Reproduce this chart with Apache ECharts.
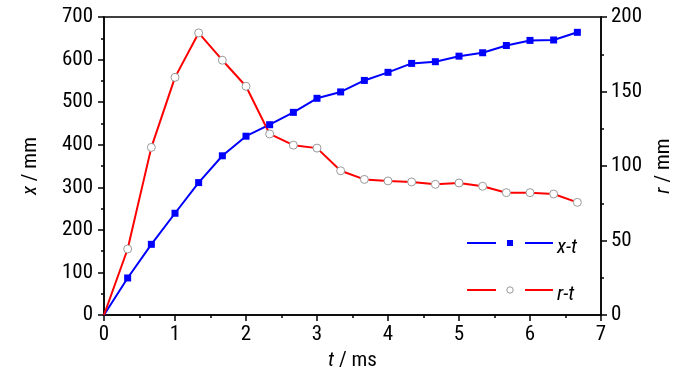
<!DOCTYPE html>
<html><head><meta charset="utf-8">
<script src="https://cdn.jsdelivr.net/npm/echarts@6/dist/echarts.min.js"></script>
<style>html,body{margin:0;padding:0;background:#fff}#c{width:700px;height:374px}</style>
</head><body><div id="c"></div>
<script>
const tValues = [0, 0.333, 0.667, 1.0, 1.333, 1.667, 2.0, 2.333, 2.667, 3.0, 3.333, 3.667, 4.0, 4.333, 4.667, 5.0, 5.333, 5.667, 6.0, 6.333, 6.667];
const xValues = [0, 87, 166, 239, 311, 374, 420, 447, 476, 509, 524, 551, 570, 591, 595, 608, 616, 633, 645, 646, 664];
const rValues = [0, 44.3, 112.5, 159.5, 189.3, 171, 153.5, 121.5, 114, 112, 96.8, 91, 90, 89.3, 87.7, 88.6, 86.4, 82.1, 82.1, 81.2, 75.6];
const xTicks = [0, 1, 2, 3, 4, 5, 6, 7];
const seriesNames = ['x-t', 'r-t'];

const FONT = '"Roboto Condensed", "Liberation Sans", Arial, sans-serif';
const FS = 21;
const chart = echarts.init(document.getElementById('c'), null, {renderer: 'canvas'});
const axisCommon = {
  axisLine: {show: true, lineStyle: {color: '#000', width: 1.5}},
  axisTick: {show: true, inside: false, length: 6, lineStyle: {color: '#000', width: 1.5}},
  minorTick: {show: true, splitNumber: 2, length: 3, lineStyle: {color: '#000', width: 1.5}},
  splitLine: {show: false},
  axisLabel: {color: '#000', fontSize: FS, fontFamily: FONT},
  nameTextStyle: {color: '#000', fontSize: FS, fontFamily: FONT}
};
const ital = {fontStyle: 'italic', fontSize: FS, fontFamily: FONT, color: '#000'};
const norm = {fontSize: FS, fontFamily: FONT, color: '#000'};

function pts(vals) {
  return tValues.map((t, i) => i === 0 ? {value: [t, vals[i]], symbol: 'none'} : [t, vals[i]]);
}

chart.setOption({
  animation: false,
  grid: {left: 104, right: 99, top: 17, bottom: 59, containLabel: false, outerBoundsMode: 'none', show: true, borderColor: '#000', borderWidth: 1.5, backgroundColor: 'transparent'},
  xAxis: Object.assign({}, axisCommon, {
    type: 'value', min: xTicks[0], max: xTicks[xTicks.length - 1], interval: 1,
    name: '{i|t}{n| / ms}', nameLocation: 'middle', nameGap: 34,
    nameTextStyle: {rich: {i: ital, n: norm}},
    axisLabel: Object.assign({}, axisCommon.axisLabel, {margin: 9})
  }),
  yAxis: [
    Object.assign({}, axisCommon, {
      type: 'value', min: 0, max: 700, interval: 100,
      name: '{i|x}{n| / mm}', nameLocation: 'middle', nameGap: 63, nameRotate: 90,
      nameTextStyle: {rich: {i: ital, n: norm}},
      axisLabel: Object.assign({}, axisCommon.axisLabel, {margin: 11})
    }),
    Object.assign({}, axisCommon, {
      type: 'value', min: 0, max: 200, interval: 50, position: 'right',
      name: '{i|r}{n| / mm}', nameLocation: 'middle', nameGap: 50, nameRotate: 90,
      nameTextStyle: {rich: {i: ital, n: norm}},
      axisLabel: Object.assign({}, axisCommon.axisLabel, {margin: 10})
    })
  ],
  series: [
    {
      name: seriesNames[0], type: 'line', yAxisIndex: 0,
      data: pts(xValues),
      symbol: 'rect', symbolSize: 7, showAllSymbol: true,
      lineStyle: {color: '#0000ff', width: 2},
      itemStyle: {color: '#0000ff'}
    },
    {
      name: seriesNames[1], type: 'line', yAxisIndex: 1,
      data: pts(rValues),
      symbol: 'circle', symbolSize: 8, showAllSymbol: true,
      lineStyle: {color: '#ff0000', width: 2},
      itemStyle: {color: '#ffffff', borderColor: '#999999', borderWidth: 1}
    }
  ],
  graphic: [
    {type: 'line', shape: {x1: 467, y1: 243, x2: 496, y2: 243}, style: {stroke: '#0000ff', lineWidth: 2}},
    {type: 'line', shape: {x1: 525, y1: 243, x2: 553, y2: 243}, style: {stroke: '#0000ff', lineWidth: 2}},
    {type: 'rect', shape: {x: 507, y: 240, width: 6, height: 6}, style: {fill: '#0000ff'}},
    {type: 'text', left: 557, top: 237, style: {text: seriesNames[0], font: 'italic ' + FS + 'px ' + FONT, fill: '#000'}},
    {type: 'line', shape: {x1: 467, y1: 290, x2: 496, y2: 290}, style: {stroke: '#ff0000', lineWidth: 2}},
    {type: 'line', shape: {x1: 525, y1: 290, x2: 553, y2: 290}, style: {stroke: '#ff0000', lineWidth: 2}},
    {type: 'circle', shape: {cx: 510, cy: 290, r: 3.2}, style: {fill: '#fff', stroke: '#999', lineWidth: 1}},
    {type: 'text', left: 557, top: 284, style: {text: seriesNames[1], font: 'italic ' + FS + 'px ' + FONT, fill: '#000'}}
  ]
});
</script></body></html>
